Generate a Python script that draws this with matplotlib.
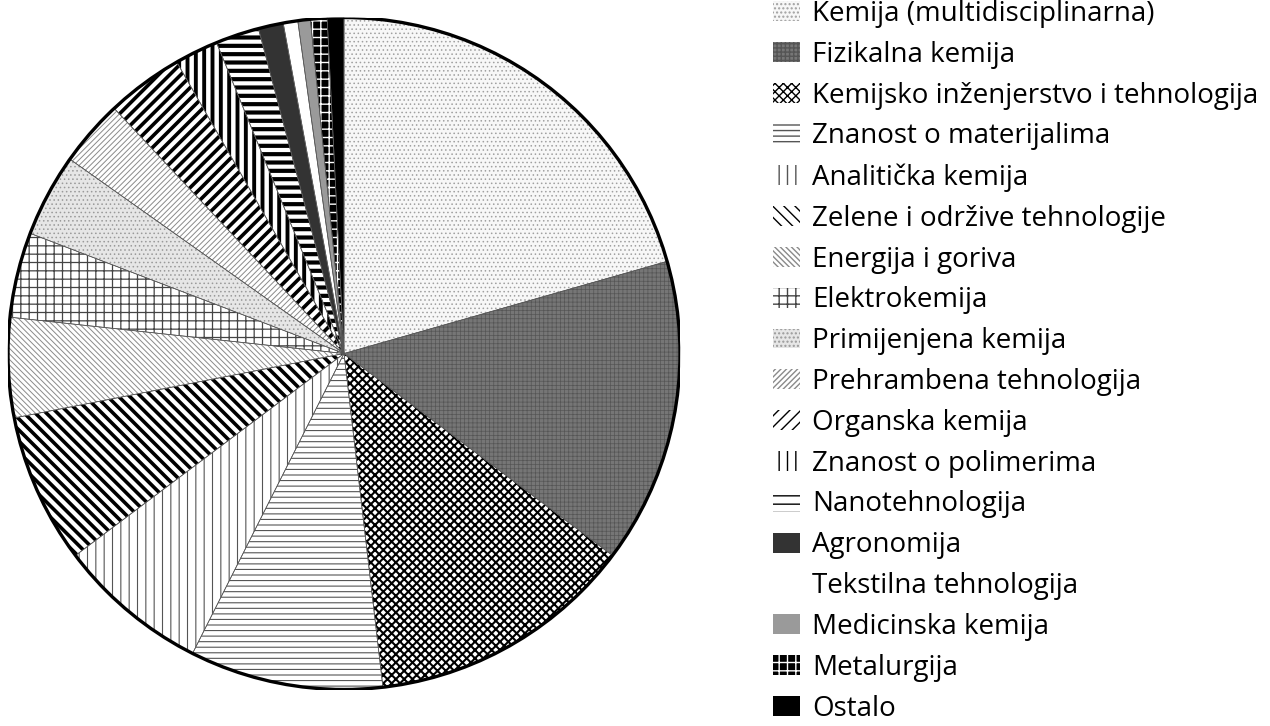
import matplotlib
matplotlib.use("Agg")
import matplotlib.pyplot as plt

# ---------- data (shares in %, clockwise from 12 o'clock) ----------
labels = [
    "Kemija (multidisciplinarna)",
    "Fizikalna kemija",
    "Kemijsko inženjerstvo i tehnologija",
    "Znanost o materijalima",
    "Analitička kemija",
    "Zelene i održive tehnologije",
    "Energija i goriva",
    "Elektrokemija",
    "Primijenjena kemija",
    "Prehrambena tehnologija",
    "Organska kemija",
    "Znanost o polimerima",
    "Nanotehnologija",
    "Agronomija",
    "Tekstilna tehnologija",
    "Medicinska kemija",
    "Metalurgija",
    "Ostalo",
]
shares = [20.6, 14.7, 12.9, 9.3, 7.3, 7.2, 4.8, 4.1, 4.0, 3.2,
          3.7, 2.1, 2.1, 1.2, 0.7, 0.6, 0.8, 0.8]

# ---------- styles (face colour, hatch, hatch colour, hatch width) ----------
faces = ["#f7f7f7", "#767676", "white", "white", "white", "white",
         "white", "white", "#e6e6e6", "white", "white", "white",
         "white", "#333333", "white", "#9a9a9a", "black", "black"]
hatches = ["....", "++++", "xxxx", "---", "||", "\\" * 3,
           "\\" * 6, "++", "....", "/" * 6, "///", "||",
           "--", "", "", "", "++", ""]
hatch_colors = ["#a0a0a0", "#555555", "black", "#555555", "#555555", "black",
                "#8a8a8a", "#444444", "#9a9a9a", "#8a8a8a", "black", "black",
                "black", "#333333", "white", "#9a9a9a", "white", "black"]
hatch_lws = [0.6, 0.5, 1.5, 0.8, 0.8, 2.6,
             0.7, 0.9, 0.6, 0.7, 2.6, 2.8,
             3.0, 1.0, 1.0, 1.0, 1.0, 1.0]

fig = plt.figure(figsize=(12.7, 7.26), dpi=100)
ax = fig.add_axes([8 / 1270, 36.5 / 726, 672 / 1270, 672 / 726])

wedges, _ = ax.pie(shares, startangle=90, counterclock=False, radius=1,
                   wedgeprops=dict(linewidth=0))
for w, fc, h, hc, hlw in zip(wedges, faces, hatches, hatch_colors, hatch_lws):
    w.set_facecolor(fc)
    w.set_edgecolor(hc)
    w.set_linewidth(0)
    if h:
        w.set_hatch(h)
    if hasattr(w, "set_hatch_linewidth"):
        w.set_hatch_linewidth(hlw)

# thin slice borders + heavy outer rim
ax.pie(shares, startangle=90, counterclock=False, radius=1,
       colors=["none"] * len(shares),
       wedgeprops=dict(edgecolor="#555555", linewidth=0.5, fill=False))
ax.add_patch(plt.Circle((0, 0), 1, fill=False, lw=2.4, ec="black"))
ax.set_xlim(-1, 1)
ax.set_ylim(-1, 1)
ax.set_aspect("equal")
ax.axis("off")

fig.legend(wedges, labels, loc="upper left", bbox_to_anchor=(773 / 1270, 1.0),
           frameon=False, prop=dict(family="Open Sans", size=20),
           handlelength=0.97, handleheight=0.72, handletextpad=0.45,
           labelspacing=0.462, borderpad=0.0, borderaxespad=0.0)

fig.savefig("out.png", dpi=100, facecolor="white")
